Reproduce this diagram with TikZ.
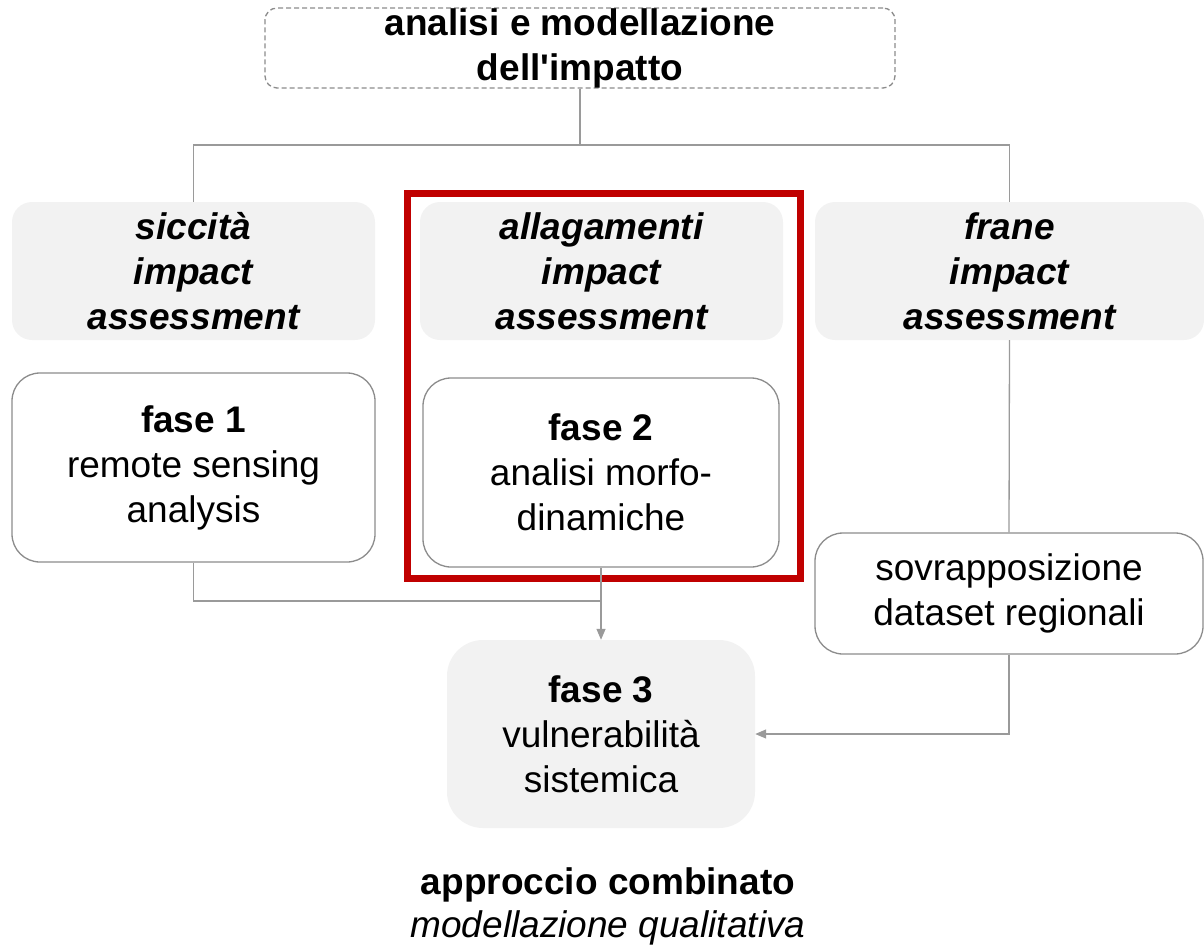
\documentclass[tikz,border=0pt]{standalone}
\usepackage{fontspec}
\setmainfont{Liberation Sans}[Ligatures=TeXOff]
\usetikzlibrary{arrows.meta}
\definecolor{boxfill}{HTML}{F2F2F2}
\definecolor{lineg}{HTML}{9A9A9A}
\definecolor{edgeg}{HTML}{8C8C8C}
\definecolor{focusred}{HTML}{C00000}
\tikzset{
  base/.style={inner sep=0pt, align=center, font=\fontsize{37}{45}\selectfont},
  header/.style={base, fill=boxfill, rounded corners=20pt, font=\fontsize{37}{45}\selectfont\bfseries\itshape},
  phasebox/.style={base, draw=edgeg, line width=1.3pt, fill=white, rounded corners=28pt},
  resultbox/.style={base, fill=boxfill, rounded corners=36pt},
  titlebox/.style={base, draw=edgeg, dash pattern=on 5pt off 3pt, line width=1.3pt, rounded corners=12pt, font=\fontsize{37}{45}\selectfont\bfseries},
  conn/.style={draw=lineg, line width=1.3pt},
  arr/.style={conn, -{Triangle[length=11pt,width=9pt]}},
}
\begin{document}
\begin{tikzpicture}[x=1pt,y=-1pt]
\useasboundingbox (0,0) rectangle (1204,951);

% top title
\node[titlebox, minimum width=630pt, minimum height=80pt] (title) at (580,48)
  {analisi e modellazione\\dell'impatto};

% impact assessment headers
\node[header, minimum width=363pt, minimum height=138pt] (siccita) at (193.5,271)
  {siccità\\impact\\assessment};
\node[header, minimum width=363pt, minimum height=138pt] (allag) at (601.5,271)
  {allagamenti\\impact\\assessment};
\node[header, minimum width=389pt, minimum height=138pt] (frane) at (1009.5,271)
  {frane\\impact\\assessment};

% phase boxes
\node[phasebox, minimum width=363pt, minimum height=189pt] (fase1) at (193.5,467.5)
  {\textbf{fase 1}\\remote sensing\\analysis};
\node[phasebox, minimum width=356pt, minimum height=189pt] (fase2) at (601,472.5)
  {\textbf{fase 2}\\analisi morfo-\\dinamiche};
\node[phasebox, minimum width=388pt, minimum height=121pt] (sovr) at (1009,593.5)
  {sovrapposizione\\dataset regionali};
\node[resultbox, minimum width=308pt, minimum height=188pt] (fase3) at (601,734)
  {\textbf{fase 3}\\vulnerabilità\\sistemica};

% highlight frame around the flooding branch
\draw[focusred, line width=7pt] (407,193) rectangle (800,578);

% caption
\node[base] (approccio) at (608,885) {\textbf{approccio combinato}};
\node[base] (modell) at (608,928) {\textit{modellazione qualitativa}};

% connectors
\coordinate (hub) at (580,145);
\coordinate (join) at (601,601);
\draw[conn] (title.south) -- (hub);
\draw[conn] (siccita.north) |- (hub) -| (frane.north);
\draw[conn] (fase1.south) |- (join);
\draw[arr] (fase2.south) -- (fase3.north);
\draw[conn] (frane.south) -- (sovr.north);
\draw[arr] (sovr.south) |- (fase3.east);
\end{tikzpicture}
\end{document}
